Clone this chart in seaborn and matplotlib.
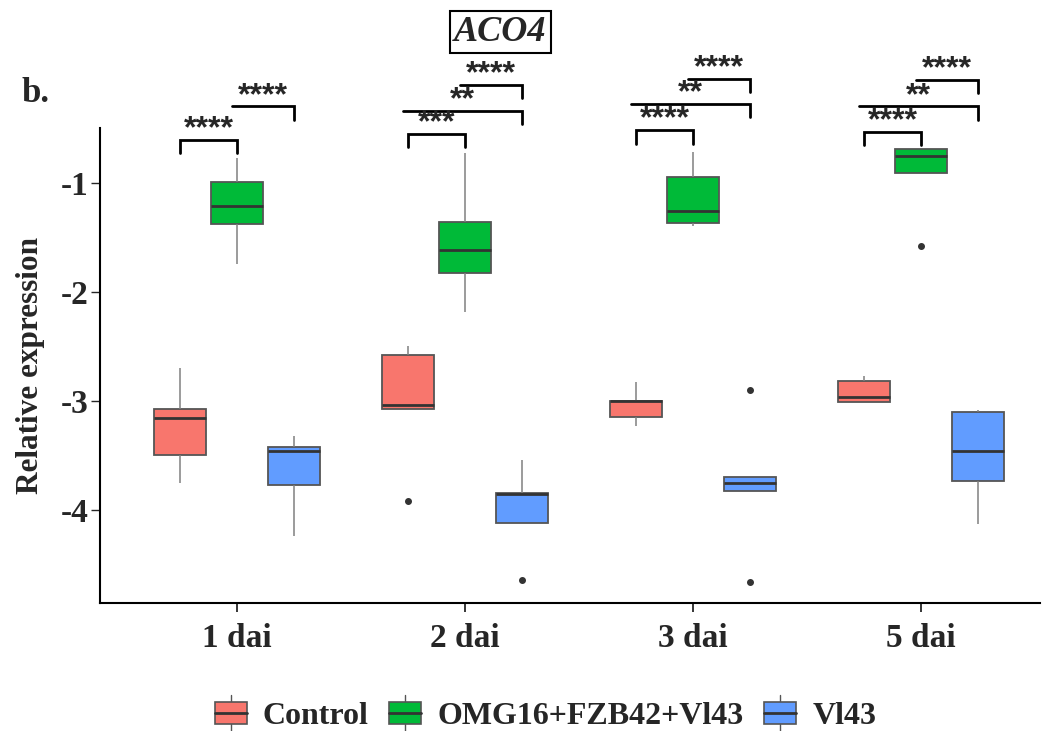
import matplotlib
matplotlib.use('Agg')
import pandas as pd
import matplotlib.pyplot as plt
import seaborn as sns
from matplotlib.legend_handler import HandlerBase
from matplotlib.patches import Rectangle, Patch
from matplotlib.lines import Line2D

# Categories
days = ['1 dai', '2 dai', '3 dai', '5 dai']
treatments = ['Control', 'OMG16+FZB42+Vl43', 'Vl43']
colors = ['#F8766D', '#00BA38', '#619CFF']

# Relative expression replicates (one list per day)
control = [
    [-3.75, -3.62, -3.50, -3.30, -3.16, -3.11, -3.07, -2.90, -2.70],
    [-3.92, -3.07, -3.07, -3.05, -3.04, -2.80, -2.58, -2.54, -2.50],
    [-3.23, -3.19, -3.15, -3.06, -3.00, -3.00, -3.00, -2.90, -2.83],
    [-3.01, -3.01, -3.01, -2.98, -2.96, -2.89, -2.82, -2.80, -2.77],
]
omg_mix = [
    [-1.74, -1.50, -1.38, -1.30, -1.21, -1.10, -0.99, -0.88, -0.77],
    [-2.18, -1.95, -1.83, -1.72, -1.62, -1.50, -1.36, -1.05, -0.73],
    [-1.40, -1.39, -1.37, -1.32, -1.26, -1.10, -0.95, -0.83, -0.72],
    [-1.58, -0.91, -0.91, -0.84, -0.75, -0.72, -0.69, -0.69, -0.69],
]
vl43 = [
    [-4.24, -3.90, -3.77, -3.60, -3.46, -3.44, -3.42, -3.37, -3.32],
    [-4.64, -4.12, -4.12, -3.95, -3.85, -3.85, -3.84, -3.70, -3.54],
    [-4.66, -3.83, -3.83, -3.79, -3.75, -3.72, -3.70, -3.70, -2.90],
    [-4.13, -3.90, -3.73, -3.60, -3.46, -3.25, -3.10, -3.08, -3.08],
]

# Pairwise significance: (day, group a, group b, label, bracket height)
brackets = [
    (0, 0, 1, '****', -0.61), (0, 1, 2, '****', -0.30),
    (1, 0, 1, '***', -0.555), (1, 0, 2, '**', -0.34), (1, 1, 2, '****', -0.105),
    (2, 0, 1, '****', -0.52), (2, 0, 2, '**', -0.275), (2, 1, 2, '****', -0.045),
    (3, 0, 1, '****', -0.53), (3, 0, 2, '**', -0.30), (3, 1, 2, '****', -0.06),
]

rows = []
for name, series in zip(treatments, [control, omg_mix, vl43]):
    for day, vals in zip(days, series):
        for v in vals:
            rows.append({'day': day, 'treatment': name, 'value': v})
df = pd.DataFrame(rows)

sns.set_style('white')
serif = 'Liberation Serif'

fig = plt.figure(figsize=(10.45, 7.31), dpi=100)
ax = fig.add_axes([0.0957, 0.1755, 0.8995, 0.649])

sns.boxplot(data=df, x='day', y='value', hue='treatment', order=days,
            hue_order=treatments, palette=colors, saturation=1,
            width=0.75, gap=0.09,
            linewidth=1.3, linecolor='#555555', showcaps=False,
            whiskerprops={'color': '#808080', 'linewidth': 1.1},
            medianprops={'color': '#333333', 'linewidth': 2},
            flierprops={'marker': 'o', 'markerfacecolor': '#333333',
                        'markeredgecolor': '#333333', 'markersize': 4},
            legend=False, ax=ax)

ax.set_xlim(-0.601, 3.522)
ax.set_ylim(-4.85, -0.50)
ax.set_yticks([-1, -2, -3, -4])
ax.set_yticklabels(['-1', '-2', '-3', '-4'])
for s in ['top', 'right']:
    ax.spines[s].set_visible(False)
for s in ['left', 'bottom']:
    ax.spines[s].set_color('black')
    ax.spines[s].set_linewidth(1.5)
ax.tick_params(axis='x', length=6.5, width=1.3, pad=8, direction='out', bottom=True)
ax.tick_params(axis='y', length=6.5, width=1.0, pad=2, direction='out', left=True)
for lab in ax.get_xticklabels() + ax.get_yticklabels():
    lab.set_fontfamily(serif)
    lab.set_fontweight('bold')
    lab.set_fontsize(24)
ax.set_xlabel('')
ax.set_ylabel('Relative expression', fontfamily=serif, fontweight='bold',
              fontsize=22.5, labelpad=11)

# significance brackets
offsets = [-0.25, 0.0, 0.25]
tip = 0.12
for d, a, b, lab, yb in brackets:
    x1, x2 = d + offsets[a], d + offsets[b]
    if a == 0 and b == 1:
        xs, ys = [x1, x1, x2, x2], [yb - tip, yb, yb, yb - tip]
    else:
        x1 = x1 - 0.02
        xs, ys = [x1, x2, x2], [yb, yb, yb - tip]
    ax.plot(xs, ys, color='black', lw=2, clip_on=False, solid_joinstyle='miter')
    ax.text((x1 + x2) / 2, yb + 0.025, lab, ha='center', va='baseline',
            fontsize=23, fontweight='bold', family='Liberation Sans',
            clip_on=False)

fig.text(0.479, 0.956, 'ACO4', ha='center', va='center', fontsize=26,
         fontfamily=serif, fontweight='bold', fontstyle='italic',
         bbox=dict(boxstyle='square,pad=0.12', facecolor='white',
                   edgecolor='black', linewidth=1.5))
fig.text(0.021, 0.872, 'b.', ha='left', va='center', fontsize=25,
         fontfamily=serif, fontweight='bold')


class BoxHandler(HandlerBase):
    def create_artists(self, legend, orig_handle, xdescent, ydescent,
                       width, height, fontsize, trans):
        fc = orig_handle.get_facecolor()
        cx = width / 2 - xdescent
        bx = Rectangle((-xdescent, -ydescent), width, height, facecolor=fc,
                       edgecolor='#555555', lw=1.2, transform=trans)
        med = Line2D([-xdescent, width - xdescent],
                     [height / 2 - ydescent] * 2, color='#333333', lw=2,
                     transform=trans)
        up = Line2D([cx, cx], [height - ydescent, height * 1.3 - ydescent],
                    color='#555555', lw=1, transform=trans)
        lo = Line2D([cx, cx], [-ydescent, -height * 0.3 - ydescent],
                    color='#555555', lw=1, transform=trans)
        return [up, lo, bx, med]


handles = [Patch(facecolor=c) for c in colors]
fig.legend(handles, treatments, loc='center', bbox_to_anchor=(0.522, 0.02),
           ncol=3, frameon=False, handler_map={Patch: BoxHandler()},
           handlelength=1.0, handleheight=0.69, handletextpad=0.5,
           columnspacing=0.65,
           prop={'family': serif, 'weight': 'bold', 'size': 23})

fig.savefig('out.png', dpi=100, facecolor='white')
